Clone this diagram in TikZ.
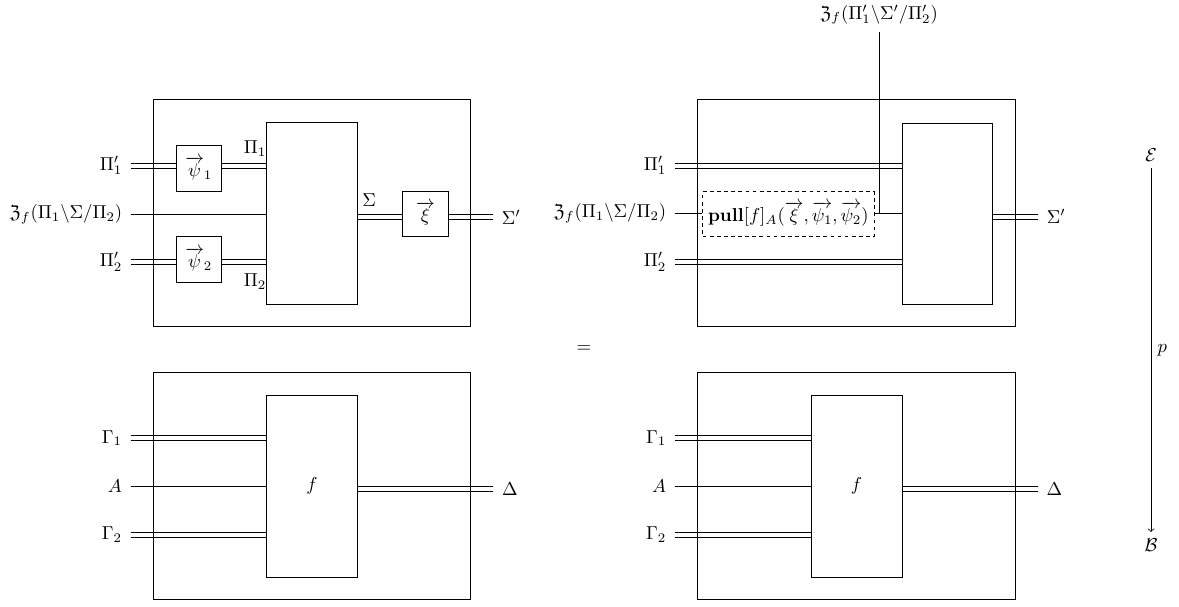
\documentclass[tikz,border=0pt]{standalone}
\usepackage{amsmath,amssymb}
\usetikzlibrary{calc}
\newcommand\pxu{0.535pt}
\newcommand\Yf{\mathfrak{Z}}
\newcommand\dline[2]{\draw ($#1+(0,1.35pt)$) -- ($#2+(0,1.35pt)$);
  \draw ($#1-(0,1.35pt)$) -- ($#2-(0,1.35pt)$);}
\begin{document}
\begin{tikzpicture}[x=0.535pt,y=-0.535pt,
  bx/.style 2 args={draw, rectangle, inner sep=0pt, minimum width=#1*\pxu, minimum height=#2*\pxu},
  lbl/.style={inner sep=4.5pt},
  dsh/.style={draw, dash pattern=on 2pt off 1.8pt, inner sep=0pt}]
\useasboundingbox (0,0) rectangle (1179,606);

% ---------- top left ----------
\node[bx={317.4}{226.4}] (oTL) at (312,213) {};
\node[bx={90.6}{182}] (iTL) at (312,213) {};
\node[bx={45.7}{45.3}] (psiA) at (198.8,168.3) {$\overrightarrow{\psi}_1$};
\node[bx={45.7}{45.3}] (psiB) at (198.8,259.3) {$\overrightarrow{\psi}_2$};
\node[bx={45.7}{45.7}] (xi) at (425.5,213.8) {$\overrightarrow{\xi}$};
\node[anchor=east,lbl] (lP1) at (131,165.5) {$\Pi_1'$};
\node[anchor=east,lbl] (lT) at (131,214) {$\Yf_f(\Pi_1\backslash\Sigma/\Pi_2)$};
\node[anchor=east,lbl] (lP2) at (131,262) {$\Pi_2'$};
\node[anchor=west,lbl] (lSp) at (493,217) {$\Sigma'$};
\node (lPi1) at (255,148.5) {$\Pi_1$};
\node (lPi2) at (255,281.5) {$\Pi_2$};
\node (lSig) at (369,200) {$\Sigma$};
\dline{(lP1.east)}{(lP1.east -| psiA.west)}
\dline{(lP1.east -| psiA.east)}{(lP1.east -| iTL.west)}
\draw (lT.east) -- (lT.east -| iTL.west);
\dline{(lP2.east)}{(lP2.east -| psiB.west)}
\dline{(lP2.east -| psiB.east)}{(lP2.east -| iTL.west)}
\dline{(lSp.west -| iTL.east)}{(lSp.west -| xi.west)}
\dline{(lSp.west -| xi.east)}{(lSp.west)}

% ---------- top right ----------
\node[bx={317.6}{226.4}] (oTR) at (856.5,213) {};
\node[bx={90.7}{181}] (iTR) at (947.5,213.5) {};
\node[dsh, minimum width=171.3*\pxu, minimum height=45*\pxu] (pull) at (788.3,214.2)
  {$\mathbf{pull}[f]_A(\overrightarrow{\xi},\overrightarrow{\psi_1},\overrightarrow{\psi_2})$};
\node[anchor=east,lbl] (rP1) at (675,165.5) {$\Pi_1'$};
\node[anchor=east,lbl] (rT) at (675,213.5) {$\Yf_f(\Pi_1\backslash\Sigma/\Pi_2)$};
\node[anchor=east,lbl] (rP2) at (675,262) {$\Pi_2'$};
\node[anchor=west,lbl] (rSp) at (1038,216.5) {$\Sigma'$};
\node[anchor=south,inner sep=3.8pt] (topl) at (879,32) {$\Yf_f(\Pi_1'\backslash\Sigma'/\Pi_2')$};
\dline{(rP1.east)}{(rP1.east -| iTR.west)}
\draw (rT.east) -- (rT.east -| pull.west);
\draw (rT.east -| pull.east) -- (rT.east -| iTR.west);
\draw (topl.south) -- (topl.south |- rT.east);
\dline{(rP2.east)}{(rP2.east -| iTR.west)}
\dline{(rSp.west -| iTR.east)}{(rSp.west)}

% ---------- bottom left ----------
\node[bx={317.4}{226.6}] (oBL) at (312,486) {};
\node[bx={90.6}{182}] (fL) at (312,486) {$f$};
\node[anchor=east,lbl] (bG1) at (130.7,438.2) {$\Gamma_1$};
\node[anchor=east,lbl] (bA) at (130.7,486.3) {$A$};
\node[anchor=east,lbl] (bG2) at (130.7,534.5) {$\Gamma_2$};
\node[anchor=west,lbl] (bD) at (493.3,489.3) {$\Delta$};
\dline{(bG1.east)}{(bG1.east -| fL.west)}
\draw (bA.east) -- (bA.east -| fL.west);
\dline{(bG2.east)}{(bG2.east -| fL.west)}
\dline{(bD.west -| fL.east)}{(bD.west)}

% ---------- bottom right ----------
\node[bx={317.6}{226.6}] (oBR) at (856.5,486) {};
\node[bx={91}{182}] (fR) at (856.5,486) {$f$};
\node[anchor=east,lbl] (cG1) at (675,438.2) {$\Gamma_1$};
\node[anchor=east,lbl] (cA) at (675,486.3) {$A$};
\node[anchor=east,lbl] (cG2) at (675,534.5) {$\Gamma_2$};
\node[anchor=west,lbl] (cD) at (1037.7,489.3) {$\Delta$};
\dline{(cG1.east)}{(cG1.east -| fR.west)}
\draw (cA.east) -- (cA.east -| fR.west);
\dline{(cG2.east)}{(cG2.east -| fR.west)}
\dline{(cD.west -| fR.east)}{(cD.west)}

% ---------- equality and projection ----------
\node (eq) at (584,349) {$=$};
\node (E) at (1151,155) {$\mathcal{E}$};
\node (B) at (1151,545) {$\mathcal{B}$};
\draw[->] (E) -- (B) node[midway,right] {$p$};
\end{tikzpicture}
\end{document}
